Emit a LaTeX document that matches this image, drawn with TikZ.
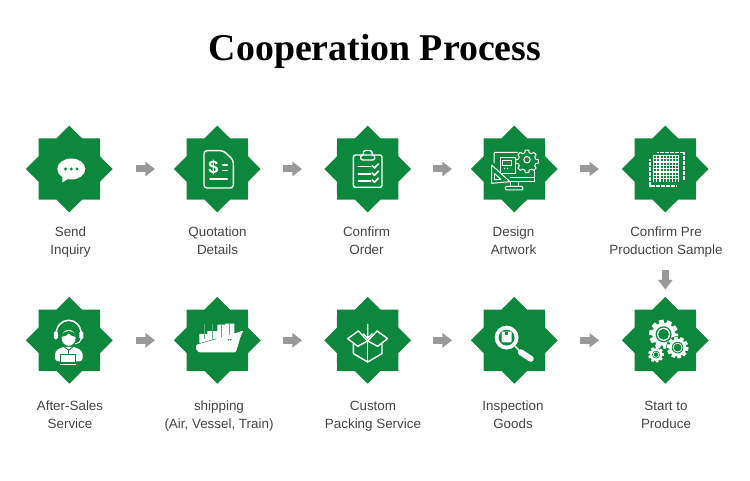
\documentclass[tikz,border=0pt]{standalone}
\usepackage{fontspec}
\setmainfont{Liberation Sans}
\newfontfamily\titlefont{Liberation Serif}
\usetikzlibrary{shapes.geometric,arrows.meta}
\definecolor{brand}{HTML}{0C873C}
\definecolor{flowgray}{HTML}{999999}
\definecolor{lblgray}{HTML}{444444}
\newcommand{\solidgear}[5]{% x,y,outer,root,teeth
  \begin{scope}[shift={(#1,#2)}]
    \fill[white] (0,0) circle (#4);
    \pgfmathsetmacro{\gstep}{360/#5}
    \pgfmathsetmacro{\gnext}{\gstep*2}
    \foreach \ga in {0,\gstep,...,359.5} {
      \fill[white,rotate=\ga+10] (-#3*0.24,0) -- (-#3*0.17,#3) -- (#3*0.17,#3) -- (#3*0.24,0) -- cycle;
    }
  \end{scope}}
\tikzset{
  badge/.style={star,star points=8,star point ratio=1.305,minimum size=86.8pt,inner sep=0pt,outer sep=0pt,fill=brand},
  flow/.style={draw=flowgray,line width=7pt,-{Triangle[length=9.5pt,width=14pt,color=flowgray]}},
  lbl/.style={anchor=north,align=center,inner sep=0pt,text=lblgray,font=\fontsize{13.4}{18}\selectfont},
  ico/.style={draw=white,line width=1.4pt,line join=round,line cap=round},
  icchat/.pic={
    \fill[white] (2,0) ellipse (14 and 10.5);
    \fill[white] (-7,6) -- (-7,13.5) -- (0,9) -- cycle;
    \fill[brand] (-3.8,0) circle (1.6) (2,0) circle (1.6) (7.8,0) circle (1.6);
  },
  icquote/.pic={
    \draw[ico,rounded corners=3pt] (-13.3,-18.3) -- (6,-18.3) -- (16,-9) -- (16,19) -- (-13.3,19) -- cycle;
    \node[text=white,font=\fontsize{18}{18}\bfseries\selectfont,inner sep=0pt] at (-4,-1.5) {\$};
    \draw[ico] (5.5,-4) -- (10,-4) (5.5,1.5) -- (10,1.5) (-7.3,10) -- (10,10);
  },
  icclip/.pic={
    \draw[ico,rounded corners=2pt] (-14.3,-14) rectangle (14.3,18.3);
    \draw[ico,fill=brand,rounded corners=2.5pt] (-4.5,-12) -- (-4.5,-18.5) -- (4.5,-18.5) -- (4.5,-12) -- cycle;
    \draw[ico,fill=brand,rounded corners=2pt] (-7,-14) rectangle (7,-9);
    \foreach \yy in {-2.3,5,12} {
      \draw[ico] (-9.3,\yy) -- (3,\yy);
      \draw[ico,line width=1.6pt] (4.5,\yy-1) -- (6.7,\yy+1.3) -- (10.7,\yy-2.8);
    }
  },
  icdesign/.pic={
    \draw[ico,line width=1pt,rounded corners=1pt] (3,-16.7) -- (-20.3,-16.7) -- (-20.3,-6);
    \draw[ico,line width=1pt] (-4,12.7) -- (19.7,12.7) -- (19.7,-3);
    \draw[ico,line width=1pt] (-4,8.5) -- (19.7,8.5);
    \draw[ico,line width=1pt] (-4,12.7) -- (-4,17.5) (4,12.7) -- (4,17.5);
    \draw[ico,line width=1pt,rounded corners=1pt] (-9,17.5) rectangle (8.5,21);
    \draw[ico,line width=1pt] (-14,-11.7) rectangle (0.7,5);
    \draw[ico,line width=.9pt] (-11.7,-8.3) rectangle (-2.7,-4);
    \fill[white] (-9.7,-0.5) circle (.8) (-6.7,-0.5) circle (.8);
    \draw[ico,line width=1pt,fill=brand] (-22.7,-4) -- (-22.7,14.3) -- (-4.3,12.7) -- cycle;
    \draw[ico,line width=.9pt] (-19.8,4.5) -- (-19.8,10.8) -- (-13.5,10.3) -- cycle;
    \draw[ico,line width=1pt,fill=brand] (12.7,-9.3) ++(-1.7,-9.6)
      -- ++(3.4,0) -- ++(.5,2.6) -- ++(2.3,1) -- ++(2.2,-1.4) -- ++(2.4,2.4) -- ++(-1.4,2.2) -- ++(1,2.3) -- ++(2.6,.5)
      -- ++(0,3.4) -- ++(-2.6,.5) -- ++(-1,2.3) -- ++(1.4,2.2) -- ++(-2.4,2.4) -- ++(-2.2,-1.4) -- ++(-2.3,1) -- ++(-.5,2.6)
      -- ++(-3.4,0) -- ++(-.5,-2.6) -- ++(-2.3,-1) -- ++(-2.2,1.4) -- ++(-2.4,-2.4) -- ++(1.4,-2.2) -- ++(-1,-2.3) -- ++(-2.6,-.5)
      -- ++(0,-3.4) -- ++(2.6,-.5) -- ++(1,-2.3) -- ++(-1.4,-2.2) -- ++(2.4,-2.4) -- ++(2.2,1.4) -- ++(2.3,-1) -- cycle;
    \draw[ico,line width=1pt] (12.7,-9.3) circle (3.2);
  },
  icsample/.pic={
    \draw[white,line width=1.4pt,dash pattern=on 2pt off .5pt] (-8,-16.3) -- (18.7,-16.3) -- (18.7,11);
    \draw[white,line width=1.4pt,dash pattern=on 2pt off .5pt] (-15.3,-9.7) -- (-15.3,17) -- (10.7,17);
    \fill[white] (-12,-14) rectangle (13.7,13.3);
    \foreach \gi in {0,...,7} {
      \foreach \gj in {0,...,7} {
        \fill[brand] (-11.1+\gi*3.15,-13.1+\gj*3.35) rectangle ++(2,2.2);
      }
    }
  },
  icagent/.pic={
    \draw[ico,line width=1.6pt] (-13.3,-5) .. controls (-13.3,-25) and (12,-25) .. (12,-5);
    \fill[white,rounded corners=1.5pt] (-15.5,-9) rectangle (-11.5,-1);
    \fill[white,rounded corners=1.5pt] (10,-9) rectangle (14,-1);
    \draw[ico,line width=1pt] (12,-1) .. controls (11,2) and (9,3) .. (6,3.5);
    \fill[white] (-.7,-2.5) ellipse (7 and 8);
    \fill[brand] (-8,-3.5) .. controls (-4,-4) and (-2,-5) .. (-.7,-7) .. controls (1,-5) and (3,-4) .. (6.6,-3.5) .. controls (6,-11) and (-7,-11) .. (-8,-3.5) -- cycle;
    \fill[white,rounded corners=3pt] (-14.3,21) -- (-14.3,11) -- (-7,6.5) -- (5.6,6.5) -- (13.3,11) -- (13.3,21) -- cycle;
    \draw[brand,line width=.9pt] (-5,6.5) -- (-.7,10) -- (3.6,6.5);
    \draw[brand,line width=1.2pt] (-.7,10) -- (-.7,13.5);
    \draw[brand,line width=1pt,fill=white] (-9.3,13.7) rectangle (6.3,22.5);
    \draw[white,line width=1pt] (-9.3,24.2) -- (6.3,24.2);
  },
  icship/.pic={
    \fill[white] (-18,6) -- (-18,-6.5) -- (-10,-6.5) -- (-10,-9.3) -- (0,-9.3) -- (0,-15.7) -- (8,-15.7) -- (8,-16.7) -- (17,-16.7) -- (17,-5) -- cycle;
    \foreach \vx in {-13,-5,4,12} {
      \draw[brand!65!white,line width=.3pt] (\vx,-16.5) -- (\vx,-1);
    }
    \fill[white,rounded corners=1pt] (-21,4.5) -- (6,-3.5) -- (17.7,-7) -- (26,-9.8) -- (23,-3) .. controls (21,4) and (20,8) .. (18.3,12) -- (-18.3,12) -- (-21.5,9) -- cycle;
    \draw[brand,line width=.5pt] (-19,3.6) -- (-1,-1.6);
    \fill[brand] (10.5,-1.2) rectangle ++(1.4,1.2) (12.7,-1.2) rectangle ++(1.4,1.2);
  },
  icbox/.pic={
    \draw[ico] (-9.3,-9.3) -- (-20,-1.7) -- (-10,6) -- (0,.7) -- (10,6) -- (20,-1.7) -- (9.3,-9.3);
    \draw[ico] (-9.3,-9.3) -- (0,.7) -- (9.3,-9.3);
    \draw[ico] (-14.3,3.3) -- (-14.3,13.3) -- (0,21.7) -- (14.3,13.3) -- (14.3,3.3);
    \draw[ico] (0,.7) -- (0,21.7);
    \draw[ico] (0,-16) -- (0,-2) (-4.5,-6.5) -- (0,-2) -- (4.5,-6.5);
  },
  iclens/.pic={
    \draw[white,line width=3.8pt] (-7.7,-2.7) circle (10);
    \draw[white,line width=1.5pt] (1,6) -- (6,11.5);
    \draw[white,line width=6pt,line cap=round] (6.5,12) -- (16.5,18.5);
    \fill[white,rounded corners=1pt] (-12.7,-8.7) rectangle (-2.7,2);
    \fill[brand] (-9.2,-8.7) rectangle (-6.2,-5);
  },
  icgears/.pic={
    \solidgear{-1.7}{-6}{14.5}{11.5}{10}
    \fill[brand] (-1.7,-6) circle (8);
    \fill[white] (-1.7,-6) circle (6.6);
    \fill[brand] (-1.7,-6) circle (5.4);
    \fill[brand] (12.3,7.3) circle (11.6);
    \solidgear{12.3}{7.3}{10.8}{8.6}{10}
    \fill[brand] (12.3,7.3) circle (5.8);
    \fill[white] (12.3,7.3) circle (4.9);
    \fill[brand] (12.3,7.3) circle (3.9);
    \solidgear{-9.3}{14.3}{7.8}{6.2}{9}
    \fill[brand] (-9.3,14.3) circle (3.9);
    \fill[white] (-9.3,14.3) circle (3.1);
    \fill[brand] (-9.3,14.3) circle (2.3);
  }
}
\begin{document}
\begin{tikzpicture}[x=1pt,y=-1pt]
\useasboundingbox (0,0) rectangle (750,481);
\node[anchor=base,inner sep=0pt,font=\fontsize{37.8}{38}\bfseries\titlefont\selectfont] (title) at (375,61) {Cooperation Process};

\node[badge] (s1) at (69.3,169) {};
\node[badge] (s2) at (217.3,169) {};
\node[badge] (s3) at (367.7,169) {};
\node[badge] (s4) at (514.3,169) {};
\node[badge] (s5) at (665.3,169) {};
\node[badge] (s6) at (69.3,340.3) {};
\node[badge] (s7) at (217.3,340.3) {};
\node[badge] (s8) at (367.7,340.3) {};
\node[badge] (s9) at (514.3,340.3) {};
\node[badge] (s10) at (665.3,340.3) {};

\pic at (s1) {icchat};
\pic at (s2) {icquote};
\pic at (s3) {icclip};
\pic at (s4) {icdesign};
\pic at (s5) {icsample};
\pic at (s6) {icagent};
\pic at (s7) {icship};
\pic at (s8) {icbox};
\pic at (s9) {iclens};
\pic at (s10) {icgears};

\node[lbl] (l1) at (70.5,223.4) {\strut Send\\\strut Inquiry};
\node[lbl] (l2) at (217.5,223.4) {\strut Quotation\\\strut Details};
\node[lbl] (l3) at (366.5,223.4) {\strut Confirm\\\strut Order};
\node[lbl] (l4) at (513.5,223.4) {\strut Design\\\strut Artwork};
\node[lbl] (l5) at (666,223.4) {\strut Confirm Pre\\\strut Production Sample};
\node[lbl] (l6) at (70,397.4) {\strut After-Sales\\\strut Service};
\node[lbl] (l7) at (219,397.4) {\strut shipping\\\strut (Air, Vessel, Train)};
\node[lbl] (l8) at (373,397.4) {\strut Custom\\\strut Packing Service};
\node[lbl] (l9) at (513,397.4) {\strut Inspection\\\strut Goods};
\node[lbl] (l10) at (666,397.4) {\strut Start to\\\strut Produce};

\draw[flow,shorten <=23.3pt,shorten >=18.9pt] (s1.east) -- (s2.west);
\draw[flow,shorten <=22.3pt,shorten >=22.3pt] (s2.east) -- (s3.west);
\draw[flow,shorten <=21.9pt,shorten >=18.9pt] (s3.east) -- (s4.west);
\draw[flow,shorten <=22.3pt,shorten >=22.9pt] (s4.east) -- (s5.west);
\draw[flow,shorten <=23.3pt,shorten >=18.9pt] (s6.east) -- (s7.west);
\draw[flow,shorten <=22.3pt,shorten >=22.3pt] (s7.east) -- (s8.west);
\draw[flow,shorten <=21.9pt,shorten >=18.9pt] (s8.east) -- (s9.west);
\draw[flow,shorten <=22.3pt,shorten >=22.9pt] (s9.east) -- (s10.west);
\draw[flow,shorten <=57.6pt,shorten >=7.4pt] (s5.south) -- (s10.north);
\end{tikzpicture}
\end{document}
